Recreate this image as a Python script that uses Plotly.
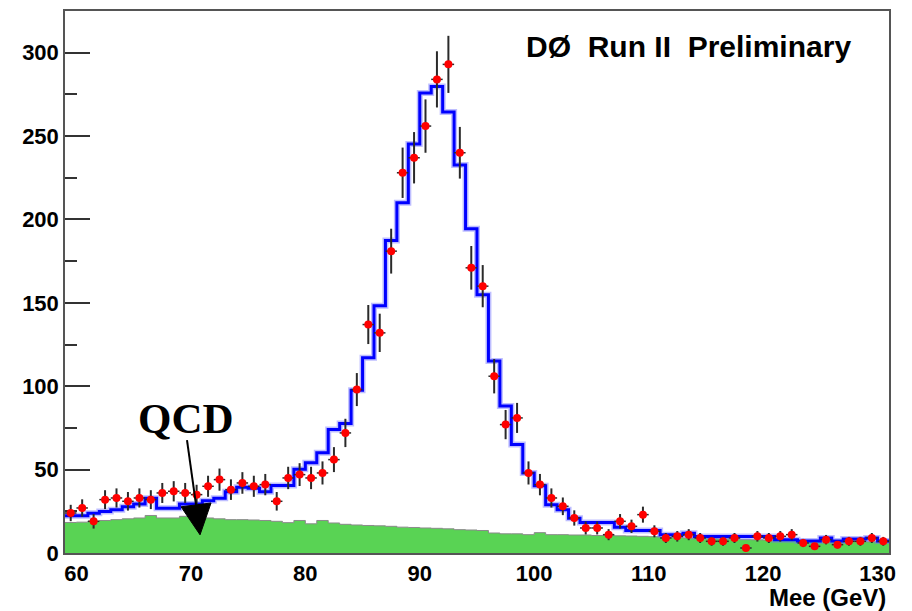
import numpy as np
import plotly.graph_objects as go

# ---- data (1 GeV bins from 59 to 131 GeV) ----
bin_edges = list(range(59, 132))
bin_centers = [e + 0.5 for e in bin_edges[:-1]]

data_counts = [24, 27, 19, 32, 33, 31, 33, 32, 36, 37, 36, 35, 40, 44, 38, 42, 40, 41, 31, 45,
               47, 45, 48, 56, 72, 98, 137, 132, 181, 228, 237, 256, 284, 293, 240, 171, 160, 106, 77, 81,
               48, 41, 33, 28, 21, 15, 15, 11, 19, 16, 23, 13, 9, 10, 11, 9, 7, 7, 9, 3,
               10, 9, 10, 11, 6, 4, 8, 5, 7, 7, 9, 7]

mc_total = [22.3, 22.3, 23.9, 24.9, 25.9, 27.8, 29.4, 32.8, 26.9, 26.9, 29.4, 29.4, 31.4, 32.8, 36.8, 39.4,
            38.8, 36.8, 40.5, 40.5, 50.2, 54.1, 60.1, 74.1, 77.7, 97.6, 117.1, 148.3, 187.4, 210.0, 245.3,
            275.8, 279.7, 264.4, 232.6, 194.4, 154.9, 115.1, 88.2, 65.0, 48.0, 40.4, 28.9, 25.9, 20.9,
            18.3, 18.3, 18.3, 15.5, 13.5, 13.5, 13.5, 10.9, 10.9, 11.9, 9.9, 9.9, 9.9, 9.9, 9.9, 9.9, 9.9,
            7.9, 7.9, 7.2, 7.2, 9.0, 7.2, 8.4, 8.4, 9.0, 7.2]

qcd_bkg = [18.3, 18.5, 19.0, 19.5, 20.0, 20.5, 21.0, 22.5, 21.0, 21.0, 22.0, 21.0, 21.0, 20.5, 20.0, 20.0,
           19.8, 19.5, 19.0, 18.2, 19.5, 17.5, 19.5, 18.0, 17.2, 16.8, 16.5, 16.3, 16.0, 15.5, 15.3, 15.0,
           14.8, 14.5, 14.0, 13.8, 13.5, 12.0, 11.5, 11.5, 11.0, 12.2, 11.0, 11.0, 10.8, 10.8, 10.5, 10.5,
           10.3, 10.2, 10.0, 9.8, 9.5, 9.3, 9.0, 9.0, 8.8, 8.5, 8.3, 8.0, 7.9, 7.8, 7.6, 7.5, 7.3, 7.2,
           7.0, 7.0, 6.9, 6.8, 6.7, 6.6]

x_ticks = [60, 70, 80, 90, 100, 110, 120, 130]
y_ticks = [0, 50, 100, 150, 200, 250, 300]

title_text = "DØ\u00a0 Run\u00a0II\u00a0 Preliminary"
x_title = "Mee (GeV)"
qcd_label = "QCD"
# annotation arrow geometry (data coordinates): tail, head base, tip, head corners
arrow_tail = (69.66, 67.7)
arrow_base = (70.45, 28.9)
arrow_tip = (70.80, 10.9)
arrow_c1 = (71.76, 30.0)
arrow_c2 = (69.14, 27.7)

step_x = bin_edges
green_y = qcd_bkg + [qcd_bkg[-1]]
blue_y = mc_total + [mc_total[-1]]
errs = np.sqrt(np.array(data_counts, dtype=float))

fig = go.Figure()
fig.add_trace(go.Scatter(x=step_x, y=green_y, mode="lines", line=dict(shape="hv", color="#8a8a8a", width=1),
                         fill="tozeroy", fillcolor="#59d354", hoverinfo="skip", showlegend=False))
fig.add_trace(go.Scatter(x=step_x, y=blue_y, mode="lines", line=dict(shape="hv", color="rgba(110,110,255,0.45)", width=6),
                         hoverinfo="skip", showlegend=False))
fig.add_trace(go.Scatter(x=step_x, y=blue_y, mode="lines", line=dict(shape="hv", color="#0000ff", width=3),
                         showlegend=False))
fig.add_trace(go.Scatter(x=bin_centers, y=data_counts, mode="markers",
                         marker=dict(color="#ff0000", size=8, symbol="circle"),
                         error_y=dict(type="data", array=errs, color="#2a2a2a", thickness=2, width=0),
                         error_x=dict(type="constant", value=0.5, color="#2a2a2a", thickness=1.5, width=0),
                         showlegend=False))

# QCD arrow
fig.add_shape(type="line", xref="x", yref="y", x0=arrow_tail[0], y0=arrow_tail[1], x1=arrow_base[0], y1=arrow_base[1],
              line=dict(color="black", width=2))
fig.add_shape(type="path", xref="x", yref="y",
              path=f"M {arrow_tip[0]},{arrow_tip[1]} L {arrow_c1[0]},{arrow_c1[1]} L {arrow_c2[0]},{arrow_c2[1]} Z",
              fillcolor="black", line=dict(color="black", width=1))

fig.add_annotation(text=qcd_label, xref="paper", yref="paper", x=0.1468, y=0.248, xanchor="center", yanchor="middle",
                   showarrow=False, font=dict(family="Liberation Serif", size=43, color="black", weight="bold"))
fig.add_annotation(text=title_text, xref="paper", yref="paper", x=0.9563, y=0.934, xanchor="right", yanchor="middle",
                   showarrow=False, font=dict(family="Liberation Sans", size=30, color="black", weight="bold"))
fig.add_annotation(text=x_title, xref="paper", yref="paper", x=0.999, y=-0.083, xanchor="right", yanchor="middle",
                   showarrow=False, font=dict(family="Liberation Sans", size=24, color="black", weight="bold"))

tickfont = dict(family="Liberation Sans", size=22, color="black", weight="bold")
fig.update_xaxes(range=[59, 131], tickvals=x_ticks, ticks="", showgrid=False, zeroline=False,
                 showline=True, linecolor="#555555", linewidth=1.5, mirror=True, tickfont=tickfont,
                 ticklabelstandoff=0)
fig.update_yaxes(range=[0, 325], tickvals=y_ticks, ticks="inside", ticklen=25, tickwidth=1.5, tickcolor="#333333",
                 minor=dict(tickvals=[25, 75, 125, 175, 225, 275, 325], ticks="inside", ticklen=12, tickwidth=1.5, tickcolor="#333333"),
                 showgrid=False, zeroline=False, showline=True, linecolor="#555555", linewidth=1.5, mirror=True,
                 tickfont=tickfont, layer="below traces")

fig.update_layout(width=912, height=611, autosize=False, margin=dict(l=65, r=23, t=9, b=58),
                  paper_bgcolor="white", plot_bgcolor="white", showlegend=False)

fig.write_html("out.html")
